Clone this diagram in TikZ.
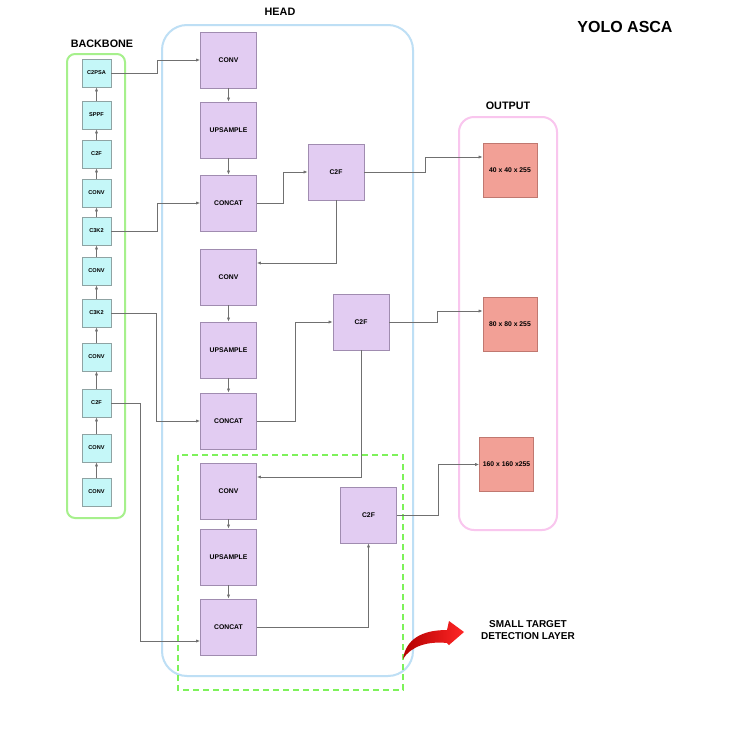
\documentclass[tikz,border=0pt]{standalone}
\usepackage{fontspec}
\setmainfont{Liberation Sans}
\usepackage{xcolor}
\usetikzlibrary{arrows.meta,positioning,calc}
\definecolor{bbfill}{HTML}{C5F7F8}
\definecolor{bbdraw}{HTML}{8FA3A3}
\definecolor{hdfill}{HTML}{E2CCF2}
\definecolor{hddraw}{HTML}{A08CB0}
\definecolor{outfill}{HTML}{F2A096}
\definecolor{outdraw}{HTML}{C07870}
\definecolor{bbframe}{HTML}{A6F08C}
\definecolor{hdframe}{HTML}{BEDFF5}
\definecolor{outframe}{HTML}{F9C6EE}
\definecolor{smallframe}{HTML}{7DF25A}
\definecolor{linkgray}{HTML}{707070}

\begin{document}
\begin{tikzpicture}[x=0.5pt,y=-0.5pt,
  bbox/.style={draw=bbdraw,fill=bbfill,minimum width=14.5pt,minimum height=14pt,inner sep=0pt,
    font=\bfseries\fontsize{2.8}{3}\selectfont},
  hbox/.style={draw=hddraw,fill=hdfill,minimum size=28pt,inner sep=0pt,
    font=\bfseries\fontsize{3.4}{4}\selectfont},
  obox/.style={draw=outdraw,fill=outfill,minimum size=27pt,inner sep=0pt,
    font=\bfseries\fontsize{3.4}{4}\selectfont},
  frame/.style={line width=1pt},
  title/.style={font=\bfseries\fontsize{5.4}{6.5}\selectfont},
  link/.style={draw=linkgray,line width=0.35pt,-{Latex[length=2pt,width=1.6pt]}}]
\fill[white] (0,0) rectangle (750,750);
\useasboundingbox (0,0) rectangle (750,750);

% frames
\draw[frame,draw=bbframe,rounded corners=4pt] (67,54) rectangle (125,518);
\draw[frame,draw=hdframe,rounded corners=12.5pt] (162,25) rectangle (413,676);
\draw[frame,draw=outframe,rounded corners=7.5pt] (459,117) rectangle (557,530);

\node[title] (bbtitle) at (102,44) {BACKBONE};
\node[title] (hdtitle) at (280,12) {HEAD};
\node[title] (outtitle) at (508,106) {OUTPUT};
\node[font=\bfseries\fontsize{8}{9.6}\selectfont] (yolo) at (625,27) {YOLO ASCA};

% backbone
\foreach \n/\y/\lab in {1/492/CONV,2/448/CONV,3/403/C2F,4/357/CONV,5/313/C3K2,
  6/271/CONV,7/231/C3K2,8/193/CONV,9/154/C2F,10/115/SPPF,11/73/C2PSA}
  \node[bbox] (b\n) at (96.5,\y) {\lab};
\foreach \a in {1,...,10}{
  \pgfmathtruncatemacro\b{\a+1}
  \draw[link] (b\a) -- (b\b);
}

% head
\foreach \n/\y/\lab in {1/60/CONV,2/130/UPSAMPLE,3/203/CONCAT,4/277/CONV,5/350/UPSAMPLE,
  6/421/CONCAT,7/491/CONV,8/557/UPSAMPLE,9/627/CONCAT}
  \node[hbox] (h\n) at (228.5,\y) {\lab};
\node[hbox] (c1) at (336,172) {C2F};
\node[hbox] (c2) at (361,322) {C2F};
\node[hbox] (c3) at (368.5,515) {C2F};
\foreach \a/\b in {1/2,2/3,4/5,5/6,7/8,8/9}
  \draw[link] (h\a) -- (h\b);

% output
\node[obox] (o1) at (510,170) {40 x 40 x 255};
\node[obox] (o2) at (510,324) {80 x 80 x 255};
\node[obox] (o3) at (506.5,464.5) {160 x 160 x255};

% small target layer
\draw[frame,draw=smallframe,dash pattern=on 3pt off 2pt] (178,455) rectangle (403,690);

% connectors
\draw[link] (b11.east) -- ++(46,0) |- (h1.west);
\draw[link] (b7.east) -- ++(46,0) |- (h3.west);
\draw[link] (b5.east) -- ++(45,0) |- (h6.west);
\draw[link] (b3.east) -- ++(29,0) |- ([yshift=-7pt]h9.west);
\draw[link] (h3.east) -- ++(26,0) |- (c1.west);
\draw[link] (c1.east) -- ++(61,0) |- ([yshift=6.5pt]o1.west);
\draw[link] (c1.south) |- ([yshift=7pt]h4.east);
\draw[link] (h6.east) -- ++(38,0) |- (c2.west);
\draw[link] (c2.east) -- ++(48,0) |- ([yshift=6.5pt]o2.west);
\draw[link] (c2.south) |- ([yshift=7pt]h7.east);
\draw[link] (h9.east) -| (c3.south);
\draw[link] (c3.east) -- ++(41,0) |- (o3.west);

% red arrow
\shade[left color=red!70!black,right color=red!85!white]
  (403,659) .. controls (406,639) and (422,630) .. (447,630) -- (449,621) -- (464,632)
  -- (449,645) -- (447,643) .. controls (428,641) and (411,646) .. (403,659) -- cycle;
\node[title,align=center,font=\bfseries\fontsize{5}{6.4}\selectfont] (smalllbl) at (528,630)
  {SMALL TARGET\\DETECTION LAYER};
\end{tikzpicture}
\end{document}
